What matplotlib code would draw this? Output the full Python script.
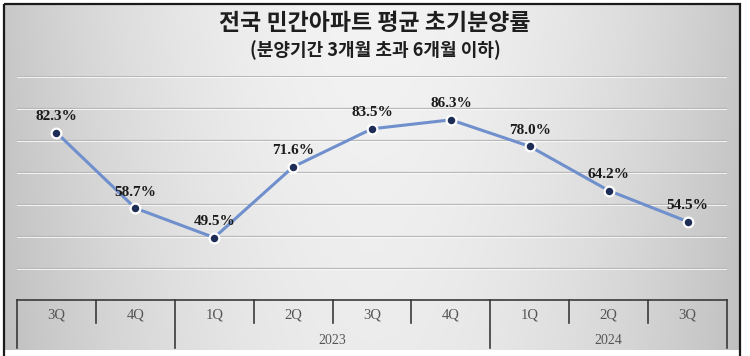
import numpy as np
import matplotlib
matplotlib.use("Agg")
import matplotlib.pyplot as plt
import matplotlib.transforms as mtransforms
from matplotlib.patches import Rectangle

# ---- data ----
title = "전국 민간아파트 평균 초기분양률"
subtitle = "(분양기간 3개월 초과 6개월 이하)"
quarters = ["3Q", "4Q", "1Q", "2Q", "3Q", "4Q", "1Q", "2Q", "3Q"]
years = ["", "2023", "2024"]
year_spans = [(0, 1), (2, 5), (6, 8)]
values = [82.3, 58.7, 49.5, 71.6, 83.5, 86.3, 78.0, 64.2, 54.5]
labels = ["82.3%", "58.7%", "49.5%", "71.6%", "83.5%", "86.3%", "78.0%", "64.2%", "54.5%"]

W, H = 750, 356
fig = plt.figure(figsize=(W / 100, H / 100), dpi=100)
fig.patch.set_facecolor("white")

# ---- background with gradient + frame ----
bg = fig.add_axes([0, 0, 1, 1])
bg.set_xlim(0, W)
bg.set_ylim(H, 0)
bg.axis("off")
xx = np.linspace(-1, 1, 400)
yy = np.linspace(0, 1, 200)
X, Y = np.meshgrid(xx, yy)
val = 0.955 - 0.17 * np.abs(X) ** 1.8 - 0.03 * Y
img = np.dstack([val, val, val])
bg.imshow(img, extent=(4, 740, 350, 4), aspect="auto", zorder=0)
bg.add_patch(Rectangle((4, 4), 736, 360, fill=False, edgecolor="#1a1a1a", lw=1.6, zorder=1))

fig.text(0.5, 1 - 24 / H, title, ha="center", va="center", fontsize=16.5,
         fontweight="bold", color="#1e1e1e", family=["Noto Sans CJK KR", "DejaVu Sans"])
fig.text(0.5, 1 - 50 / H, subtitle, ha="center", va="center", fontsize=13,
         fontweight="bold", color="#1e1e1e", family=["Noto Sans CJK KR", "DejaVu Sans"])

# ---- main axes ----
ax = fig.add_axes([17 / W, (H - 300) / H, 710 / W, 224 / H])
ax.patch.set_alpha(0)
x = np.arange(len(values))
ax.set_xlim(-0.5, len(values) - 0.5)
ax.set_ylim(30, 100)
for g in range(40, 101, 10):
    ax.axhline(g, color="#b8b8b8", lw=0.9, zorder=1)
    ax.axhline(g - 0.35, color="#ffffff", lw=0.7, alpha=0.8, zorder=1)

ax.plot(x, values, color="#6f90cc", lw=2.2, zorder=3,
        marker="o", markersize=7, markerfacecolor="#1d2d55",
        markeredgecolor="white", markeredgewidth=1.6)
for xi, v, lab in zip(x, values, labels):
    ax.annotate(lab, (xi, v), xytext=(0, 9), textcoords="offset points",
                ha="center", va="baseline", fontsize=11, fontweight="bold",
                color="#1a1a1a", family="Liberation Serif", zorder=4)

for s in ["top", "right", "left"]:
    ax.spines[s].set_visible(False)
ax.spines["bottom"].set_color("#3a3a3a")
ax.spines["bottom"].set_linewidth(1.2)
ax.set_xticks([])
ax.set_yticks([])

# ---- category table ----
tr = mtransforms.blended_transform_factory(ax.transData, ax.transAxes)
short_y = -23 / 224
tall_y = -48 / 224
tall_b = [s[0] - 0.5 for s in year_spans] + [year_spans[-1][1] + 0.5]
for b in np.arange(-0.5, len(values), 1.0):
    bottom = tall_y if any(abs(b - t) < 1e-6 for t in tall_b) else short_y
    ax.plot([b, b], [0, bottom], transform=tr, color="#3a3a3a", lw=1.2, clip_on=False)
for xi, q in zip(x, quarters):
    ax.text(xi, -15 / 224, q, transform=tr, ha="center", va="center",
            fontsize=10.5, color="#555555", family="Liberation Serif")
for (a, b), yr in zip(year_spans, years):
    if yr:
        ax.text((a + b) / 2, -40 / 224, yr, transform=tr, ha="center", va="center",
                fontsize=10, color="#555555", family="Liberation Serif")

fig.savefig("out.png", dpi=100)
